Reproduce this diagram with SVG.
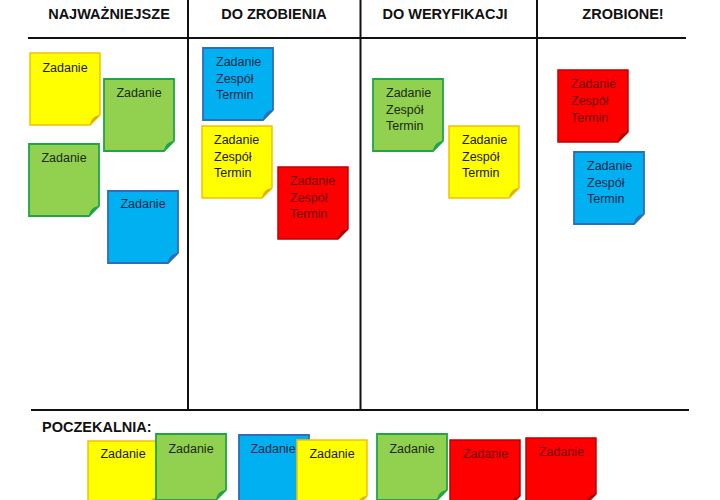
<svg xmlns="http://www.w3.org/2000/svg" xmlns:xlink="http://www.w3.org/1999/xlink" width="720" height="500" viewBox="0 0 720 500">
<style>
.hdr{font-family:"Liberation Sans",Arial,sans-serif;font-weight:bold;font-size:14.5px;fill:#111;text-anchor:middle}
.lbl{font-family:"Liberation Sans",Arial,sans-serif;font-weight:bold;font-size:14.5px;fill:#111}
.t{font-family:"Liberation Sans",Arial,sans-serif;font-size:12.5px}
.c{text-anchor:middle}
.grid{stroke:#111;stroke-width:2;fill:none}
.y .s{fill:#FFFF00;stroke:#F2C100;stroke-width:1.5}
.y .f{fill:#E0B000}
.y text{fill:#1a1a1a}
.g .s{fill:#92D050;stroke:#1FA548;stroke-width:1.8}
.g .f{fill:#1FA548}
.g text{fill:#1a2a10}
.b .s{fill:#00B0F0;stroke:#2E6DB8;stroke-width:1.8}
.b .f{fill:#2E6DB8}
.b text{fill:#0d2a4a}
.r .s{fill:#FF0000;stroke:#C00000;stroke-width:1.5}
.r .f{fill:#B00000}
.r text{fill:#700000}
</style>
<defs>
<path id="sheet" d="M0,0H70V62L60,72H0Z"/>
<path id="fold" d="M70,62L60,72Q61,63 70,62Z"/>
<path id="sheetS" d="M0,0H70V56L60,66H0Z"/>
<path id="foldS" d="M70,56L60,66Q61,57 70,56Z"/>
</defs>
<rect width="720" height="500" fill="#fff"/>

<g id="board">
<line class="grid" x1="28" y1="38" x2="686" y2="38"/>
<line class="grid" x1="31" y1="410" x2="689" y2="410"/>
<line class="grid" x1="188" y1="0" x2="188" y2="410"/>
<line class="grid" x1="360.5" y1="0" x2="360.5" y2="410"/>
<line class="grid" x1="537" y1="0" x2="537" y2="410"/>
<text class="hdr" x="109" y="19">NAJWAŻNIEJSZE</text>
<text class="hdr" x="274" y="19">DO ZROBIENIA</text>
<text class="hdr" x="445" y="19">DO WERYFIKACJI</text>
<text class="hdr" x="623" y="19">ZROBIONE!</text>
<text class="lbl" x="42" y="432">POCZEKALNIA:</text>
</g>

<g id="n1" class="y" transform="translate(30,53)"><use xlink:href="#sheet" class="s"/><use xlink:href="#fold" class="f"/><text class="t c" x="35" y="19">Zadanie</text></g>
<g id="n2" class="g" transform="translate(104,79)"><use xlink:href="#sheet" class="s"/><use xlink:href="#fold" class="f"/><text class="t c" x="35" y="18">Zadanie</text></g>
<g id="n3" class="g" transform="translate(29,144)"><use xlink:href="#sheet" class="s"/><use xlink:href="#fold" class="f"/><text class="t c" x="35" y="18">Zadanie</text></g>
<g id="n4" class="b" transform="translate(108,191)"><use xlink:href="#sheet" class="s"/><use xlink:href="#fold" class="f"/><text class="t c" x="35" y="17">Zadanie</text></g>

<g id="n5" class="b" transform="translate(203,48)"><use xlink:href="#sheet" class="s"/><use xlink:href="#fold" class="f"/><text class="t" x="13" y="18">Zadanie</text><text class="t" x="13" y="35">Zespół</text><text class="t" x="13" y="51">Termin</text></g>
<g id="n6" class="y" transform="translate(202,126)"><use xlink:href="#sheet" class="s"/><use xlink:href="#fold" class="f"/><text class="t" x="12" y="17.5">Zadanie</text><text class="t" x="12" y="35">Zespół</text><text class="t" x="12" y="51">Termin</text></g>
<g id="n7" class="r" transform="translate(278,167)"><use xlink:href="#sheet" class="s"/><use xlink:href="#fold" class="f"/><text class="t" x="12" y="18">Zadanie</text><text class="t" x="12" y="35">Zespół</text><text class="t" x="12" y="51">Termin</text></g>

<g id="n8" class="g" transform="translate(373,79)"><use xlink:href="#sheet" class="s"/><use xlink:href="#fold" class="f"/><text class="t" x="13" y="18">Zadanie</text><text class="t" x="13" y="35">Zespół</text><text class="t" x="13" y="51">Termin</text></g>
<g id="n9" class="y" transform="translate(449,126)"><use xlink:href="#sheet" class="s"/><use xlink:href="#fold" class="f"/><text class="t" x="13" y="17.5">Zadanie</text><text class="t" x="13" y="35">Zespół</text><text class="t" x="13" y="51">Termin</text></g>

<g id="n10" class="r" transform="translate(558,70)"><use xlink:href="#sheet" class="s"/><use xlink:href="#fold" class="f"/><text class="t" x="13" y="18">Zadanie</text><text class="t" x="13" y="35">Zespół</text><text class="t" x="13" y="52">Termin</text></g>
<g id="n11" class="b" transform="translate(574,152)"><use xlink:href="#sheet" class="s"/><use xlink:href="#fold" class="f"/><text class="t" x="13" y="17.5">Zadanie</text><text class="t" x="13" y="35">Zespół</text><text class="t" x="13" y="51">Termin</text></g>

<g id="w1" class="y" transform="translate(88,441)"><use xlink:href="#sheetS" class="s"/><use xlink:href="#foldS" class="f"/><text class="t c" x="35" y="17">Zadanie</text></g>
<g id="w2" class="g" transform="translate(156,434)"><use xlink:href="#sheetS" class="s"/><use xlink:href="#foldS" class="f"/><text class="t c" x="35" y="19">Zadanie</text></g>
<g id="w3" class="b" transform="translate(239,435)"><use xlink:href="#sheetS" class="s"/><use xlink:href="#foldS" class="f"/><text class="t c" x="34" y="18">Zadanie</text></g>
<g id="w4" class="y" transform="translate(297,440)"><use xlink:href="#sheetS" class="s"/><use xlink:href="#foldS" class="f"/><text class="t c" x="35" y="18">Zadanie</text></g>
<g id="w5" class="g" transform="translate(377,434)"><use xlink:href="#sheetS" class="s"/><use xlink:href="#foldS" class="f"/><text class="t c" x="35" y="19">Zadanie</text></g>
<g id="w6" class="r" transform="translate(450,440)"><use xlink:href="#sheetS" class="s"/><use xlink:href="#foldS" class="f"/><text class="t c" x="35.5" y="18">Zadanie</text></g>
<g id="w7" class="r" transform="translate(526,438)"><use xlink:href="#sheetS" class="s"/><use xlink:href="#foldS" class="f"/><text class="t c" x="35.5" y="18">Zadanie</text></g>
</svg>
